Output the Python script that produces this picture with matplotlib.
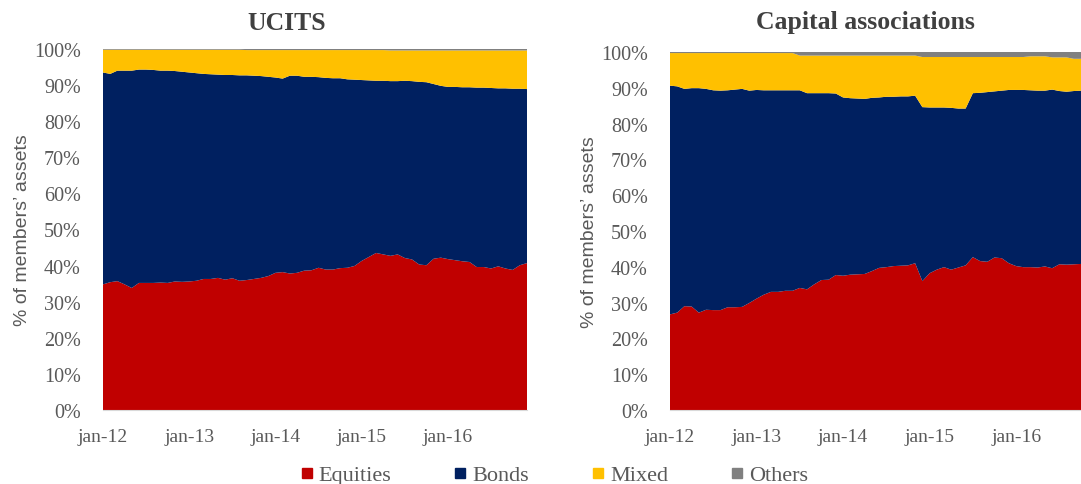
import numpy as np
import matplotlib
matplotlib.use("Agg")
import matplotlib.pyplot as plt
from matplotlib.lines import Line2D

# ---------------- data (percent of members' assets) ----------------
series_names = ["Equities", "Bonds", "Mixed", "Others"]
colors = ["#C00000", "#002060", "#FFC000", "#808080"]
tick_labels = ["jan-12", "jan-13", "jan-14", "jan-15", "jan-16"]
tick_months = [0, 12, 24, 36, 48]

# UCITS, monthly jan-12 .. dec-16 : upper edge of each cumulative layer
ucits_equities = [
    34.8, 35.4, 35.7, 34.8, 33.8, 35.2, 35.2, 35.2, 35.3, 35.2,
    35.6, 35.5, 35.6, 35.8, 36.3, 36.3, 36.6, 36.1, 36.5, 35.8,
    36.0, 36.3, 36.6, 37.1, 38.0, 38.2, 37.8, 38.0, 38.6, 38.7,
    39.4, 38.9, 38.9, 39.3, 39.4, 39.9, 41.3, 42.4, 43.5, 43.1,
    42.7, 43.1, 42.1, 41.7, 40.3, 40.1, 41.9, 42.2, 41.8, 41.5,
    41.2, 41.0, 39.6, 39.6, 39.2, 39.8, 39.2, 38.8, 40.1, 40.7]
ucits_equities_bonds = [
    93.5, 93.1, 94.0, 94.0, 94.0, 94.3, 94.3, 94.2, 94.0, 94.0,
    93.9, 93.7, 93.5, 93.3, 93.1, 93.0, 92.9, 92.8, 92.8, 92.7,
    92.7, 92.6, 92.5, 92.3, 92.1, 91.8, 92.6, 92.6, 92.3, 92.3,
    92.2, 92.0, 91.9, 91.9, 91.6, 91.5, 91.4, 91.3, 91.2, 91.2,
    91.1, 91.1, 91.2, 91.1, 90.9, 90.8, 90.3, 89.8, 89.5, 89.5,
    89.4, 89.4, 89.3, 89.3, 89.2, 89.1, 89.1, 89.0, 89.0, 88.9]
ucits_equities_bonds_mixed = [
    99.8, 99.8, 99.8, 99.8, 99.8, 99.8, 99.8, 99.8, 99.8, 99.8,
    99.8, 99.8, 99.8, 99.8, 99.8, 99.8, 99.8, 99.8, 99.8, 99.8,
    99.7, 99.7, 99.7, 99.7, 99.7, 99.7, 99.7, 99.7, 99.7, 99.7,
    99.7, 99.7, 99.7, 99.7, 99.7, 99.7, 99.7, 99.7, 99.7, 99.7,
    99.6, 99.6, 99.6, 99.6, 99.6, 99.6, 99.6, 99.6, 99.6, 99.6,
    99.6, 99.6, 99.6, 99.6, 99.6, 99.6, 99.6, 99.6, 99.6, 99.6]

# Capital associations, monthly jan-12 .. oct-16 (visible part)
capass_equities = [
    26.7, 27.2, 29.0, 28.9, 27.2, 28.0, 27.9, 27.9, 28.7, 28.7,
    28.8, 29.9, 31.1, 32.2, 33.0, 33.0, 33.3, 33.3, 34.1, 33.7,
    35.1, 36.3, 36.4, 37.7, 37.5, 37.8, 37.9, 38.0, 38.8, 39.7,
    39.9, 40.2, 40.3, 40.4, 41.0, 36.0, 38.2, 39.2, 39.9, 39.2,
    39.8, 40.4, 42.7, 41.6, 41.4, 42.6, 42.4, 41.0, 40.2, 39.9,
    39.9, 39.8, 40.1, 39.6, 40.7, 40.6, 40.7, 40.8]
capass_equities_bonds = [
    90.6, 90.4, 89.7, 89.9, 89.9, 89.7, 89.3, 89.2, 89.3, 89.5,
    89.7, 89.2, 89.4, 89.3, 89.3, 89.3, 89.3, 89.3, 89.3, 88.5,
    88.5, 88.5, 88.5, 88.4, 87.3, 87.1, 87.0, 86.9, 87.2, 87.3,
    87.5, 87.5, 87.6, 87.6, 87.8, 84.6, 84.5, 84.5, 84.5, 84.4,
    84.2, 84.2, 88.5, 88.6, 88.8, 89.0, 89.2, 89.4, 89.4, 89.4,
    89.3, 89.2, 89.2, 89.5, 89.1, 88.9, 89.1, 89.2]
capass_equities_bonds_mixed = [
    99.7, 99.7, 99.7, 99.7, 99.7, 99.7, 99.7, 99.7, 99.7, 99.7,
    99.7, 99.7, 99.7, 99.7, 99.7, 99.7, 99.7, 99.7, 99.0, 99.0,
    99.0, 99.0, 99.0, 99.0, 99.0, 99.0, 99.0, 99.0, 99.0, 99.0,
    99.0, 99.0, 99.0, 99.0, 99.0, 98.6, 98.6, 98.6, 98.6, 98.6,
    98.6, 98.6, 98.6, 98.6, 98.6, 98.6, 98.6, 98.6, 98.6, 98.6,
    98.8, 98.8, 98.8, 98.5, 98.5, 98.5, 98.1, 98.1]


def layers(eq, eqb, eqbm):
    edges = np.vstack([np.zeros(len(eq)), eq, eqb, eqbm, np.full(len(eq), 100.0)])
    return np.diff(edges, axis=0) / 100.0


TEXT = "#595959"
SERIF = ["Liberation Serif", "DejaVu Serif"]
SANS = ["Liberation Sans", "DejaVu Sans"]

fig = plt.figure(figsize=(10.81, 4.85), dpi=100)

panels = [
    ("UCITS", ucits_equities, ucits_equities_bonds, ucits_equities_bonds_mixed,
     [103 / 1081, 1 - 411 / 485, 424 / 1081, 361 / 485], 287 / 1081),
    ("Capital associations", capass_equities, capass_equities_bonds, capass_equities_bonds_mixed,
     [670 / 1081, 1 - 411 / 485, 411 / 1081, 358 / 485], 865 / 1081),
]

for title, eq, eqb, eqbm, pos, tx in panels:
    ax = fig.add_axes(pos)
    ys = layers(eq, eqb, eqbm)
    x = np.arange(len(eq))
    ax.stackplot(x, ys, colors=colors, linewidth=0, antialiased=True)
    ax.set_xlim(0, len(eq) - 1)
    ax.set_ylim(0, 1)
    ax.set_yticks(np.arange(0, 1.01, 0.1))
    ax.set_yticklabels([f"{int(round(v * 100))}%" for v in np.arange(0, 1.01, 0.1)],
                       family=SERIF, fontsize=14.5, color=TEXT)
    ax.set_xticks(tick_months)
    ax.set_xticklabels(tick_labels, family=SERIF, fontsize=14, color=TEXT)
    ax.tick_params(length=0)
    ax.tick_params(axis="y", pad=16)
    ax.tick_params(axis="x", pad=13)
    for s in ["top", "right", "left"]:
        ax.spines[s].set_visible(False)
    ax.spines["bottom"].set_color("#D9D9D9")
    ax.set_ylabel("% of members’ assets", family=SANS, fontsize=14, color=TEXT, labelpad=2)
    fig.text(tx, 1 - 23 / 485, title, ha="center", va="center", family=SERIF,
             fontsize=18.5, fontweight="bold", color="#404040")

handles = [Line2D([0], [0], marker="s", linestyle="none", markersize=7.5,
                  markerfacecolor=c, markeredgecolor=c) for c in colors]
leg = fig.legend(handles, series_names, loc="center", bbox_to_anchor=(552 / 1081, 1 - 476 / 485),
                 ncol=4, frameon=False, prop={"family": SERIF, "size": 16},
                 handletextpad=0.05, columnspacing=2.6, handlelength=1.0)
for t in leg.get_texts():
    t.set_color(TEXT)

fig.savefig("out.png", dpi=100)
